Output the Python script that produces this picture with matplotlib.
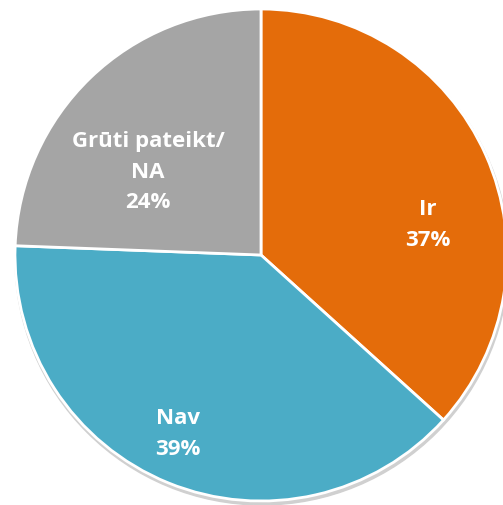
import matplotlib.pyplot as plt

labels = ["Ir", "Nav", "Grūti pateikt/\nNA"]
values = [36.7, 38.9, 24.4]
colors = ["#E46C0A", "#4BACC6", "#A5A5A5"]
# label positions in pixels (x, y from top)
label_pos = [(428, 225), (178, 434), (148, 172)]

W, H = 503, 506
fig = plt.figure(figsize=(W / 100, H / 100), dpi=100)
ax = fig.add_axes([0, 0, 1, 1])

cx, cy, r = 261, H - 256, 246

# soft shadow
ax.add_patch(plt.Circle((cx + 1, cy - 3), r + 1, color="#d0d0d0", zorder=0))

ax.pie(values, colors=colors, startangle=90, counterclock=False,
       center=(cx, cy), radius=r, frame=True,
       wedgeprops=dict(edgecolor="white", linewidth=2))
ax.set_xlim(0, W)
ax.set_ylim(0, H)
ax.set_aspect("equal")
ax.axis("off")

for lab, v, (x, y) in zip(labels, values, label_pos):
    ax.text(x, H - y, f"{lab}\n{round(v)}%", ha="center", va="center",
            color="white", fontsize=16, fontweight="bold",
            family="Open Sans", linespacing=1.6)

fig.savefig("out.png", dpi=100)
